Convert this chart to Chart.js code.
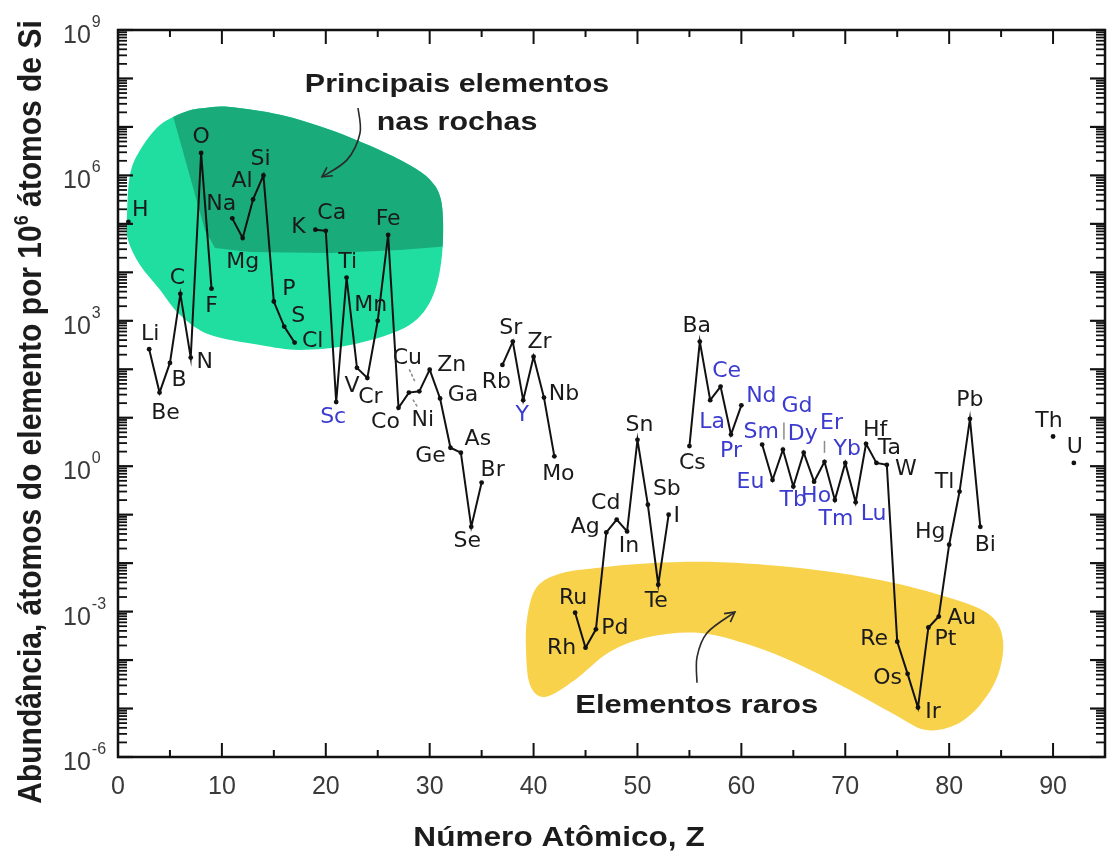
<!DOCTYPE html>
<html>
<head>
<meta charset="utf-8">
<script src="https://cdn.jsdelivr.net/npm/chart.js@4.4.1/dist/chart.umd.min.js"></script>
<style>
  html, body { margin: 0; padding: 0; background: #ffffff; }
  canvas { display: block; }
</style>
</head>
<body>
<canvas id="chart" width="1109" height="857"></canvas>
<script>
// Elemental abundance in the upper continental crust, atoms per 10^6 atoms of Si
const symbols = ['H','Li','Be','B','C','N','O','F','Na','Mg','Al','Si','P','S','Cl','K','Ca','Sc','Ti','V','Cr','Mn','Fe','Co','Ni','Cu','Zn','Ga','Ge','As','Se','Br','Rb','Sr','Y','Zr','Nb','Mo','Ru','Rh','Pd','Ag','Cd','In','Sn','Sb','Te','I','Cs','Ba','La','Ce','Pr','Nd','Sm','Eu','Gd','Tb','Dy','Ho','Er','Tm','Yb','Lu','Hf','Ta','W','Re','Os','Ir','Pt','Au','Hg','Tl','Pb','Bi','Th','U'];
const atomicNumbers = [1,3,4,5,6,7,8,9,11,12,13,14,15,16,17,19,20,21,22,23,24,25,26,27,28,29,30,31,32,33,34,35,37,38,39,40,41,42,44,45,46,47,48,49,50,51,52,53,55,56,57,58,59,60,62,63,64,65,66,67,68,69,70,71,72,73,74,75,76,77,78,79,80,81,82,83,90,92];
const abundances = [1.1e5,260,33,135,3.6e3,174,2.9e6,4.6e3,1.3e5,5.1e4,3.2e5,1.0e6,2.5e3,760,355,7.6e4,7.2e4,21,7.8e3,107,66,1.0e3,5.9e4,16,33,35,98,25,2.4,1.9,0.056,0.46,123,372,23,182,26,1.6,9.5e-4,1.8e-4,4.3e-4,0.043,0.079,0.045,3.5,0.16,0.0036,0.10,2.6,372,23,44,4.5,18,2.8,0.52,2.2,0.38,1.9,0.48,1.23,0.20,1.17,0.18,2.9,1.17,1.07,2.4e-4,5.2e-5,1.05e-5,4.7e-4,7.9e-4,0.024,0.30,9.5,0.056,4.1,1.17];
const rareEarths = ['Sc','Y','La','Ce','Pr','Nd','Sm','Eu','Gd','Tb','Dy','Ho','Er','Tm','Yb','Lu'];
const xTickValues = [0,10,20,30,40,50,60,70,80,90];
const yTickExponents = [-6,-3,0,3,6,9];

// Where each element symbol sits relative to its point (pixels)
const labelOffsets = {
  H:[12,-12], Li:[1,-15], Be:[6,21], B:[9,17], C:[-3,-16], N:[14,5], O:[0,-16], F:[0,18],
  Na:[-11,-14], Mg:[0,24], Al:[-11,-18], Si:[-3,-16], P:[15,-12], S:[14,-10], Cl:[18,-1],
  K:[-17,-2], Ca:[6,-18], Sc:[-3,15], Ti:[1,-15], V:[-5,18], Cr:[3,19], Mn:[-7,-16], Fe:[0,-16],
  Co:[-13,14], Ni:[14,28], Cu:[-12,-33], Zn:[22,-4], Ga:[23,-3], Ge:[-20,9], As:[17,-13],
  Se:[-4,14], Br:[11,-12], Rb:[-6,17], Sr:[-2,-13], Y:[-1,15], Zr:[6,-14], Nb:[20,-3], Mo:[4,18],
  Ru:[-2,-14], Rh:[-24,1], Pd:[19,-1], Ag:[-21,-5], Cd:[-11,-16], In:[2,15], Sn:[2,-15],
  Sb:[19,-15], Te:[-2,17], I:[8,2], Cs:[3,17], Ba:[-3,-15], La:[2,22], Ce:[6,-15], Pr:[0,17],
  Nd:[20,-9], Sm:[-1,-12], Eu:[-22,2], Gd:[14,-43], Tb:[0,14], Dy:[-1,-18], Ho:[2,15],
  Er:[7,-39], Tm:[1,19], Yb:[2,-14], Lu:[18,12], Hf:[9,-14], Ta:[13,-15], W:[19,5],
  Re:[-23,-2], Os:[-20,4], Ir:[15,5], Pt:[17,12], Au:[23,2], Hg:[-19,-12], Tl:[-15,-9],
  Pb:[0,-19], Bi:[5,18], Th:[-4,-15], U:[1,-16]
};
// Short pointer strokes from a symbol to its point: [symbol, dx1, dy1, dx2, dy2, dashed]
const leaders = [
  ['Cu', -10, -22, -4, -9, true],
  ['Ni', 4, 7, 9, 15, true],
  ['Gd', 1, -27, 1, -10, false],
  ['Er', 0, -21, 0, -9, false]
];

// Shaded zones, outlined in (Z, log10 abundance)
const rockZone = [[0.87,5.18],[1.15,6.01],[2.12,6.52],[4.04,7.04],[6.45,7.31],[8.37,7.39],[10.78,7.41],[15.59,7.25],[20.4,6.94],[25.22,6.52],[28.1,6.21],[30.03,5.91],[31.09,5.49],[31.28,4.67],[30.8,3.84],[29.55,3.22],[27.14,2.81],[22.33,2.5],[17.52,2.4],[13.67,2.5],[8.85,2.71],[5.97,3.12],[4.04,3.64],[2.12,4.15],[0.96,4.67]];
const rockCore = [[5.0,7.7],[33.0,7.7],[33.0,4.56],[27.14,4.46],[20.4,4.4],[12.7,4.42],[9.34,4.5],[8.37,4.87],[5.2,7.3]];
const rareZone = [[39.4,-3.1],[40.3,-2.5],[42.5,-2.22],[46.0,-2.1],[51.2,-2.0],[57.94,-1.98],[65.64,-2.1],[73.34,-2.35],[80.08,-2.72],[83.93,-3.07],[85.18,-3.59],[84.7,-4.31],[82.96,-4.93],[80.56,-5.34],[77.67,-5.44],[74.78,-5.13],[70.45,-4.62],[65.64,-4.1],[60.83,-3.69],[56.02,-3.44],[51.2,-3.52],[47.35,-3.83],[43.98,-4.41],[41.1,-4.76],[39.65,-4.51],[39.27,-3.79]];
const rockArrow = [[23.1,7.39],[23.29,6.87],[22.04,6.32],[19.63,5.97]];
const rareArrow = [[55.73,-4.47],[55.73,-3.94],[56.69,-3.44],[59.38,-3.01]];

// Build the line with breaks wherever an element is missing
const linePoints = [];
atomicNumbers.forEach((z, i) => {
  if (i > 0 && z - atomicNumbers[i - 1] > 1) linePoints.push({ x: z - 0.5, y: null });
  linePoints.push({ x: z, y: abundances[i] });
});

const STRETCH = 1.17;
const INK = '#1a1a1a';
const BLUE = '#3b3bd0';

function toPx(chart, z, lg) {
  return [chart.scales.x.getPixelForValue(z), chart.scales.y.getPixelForValue(Math.pow(10, lg))];
}
function smoothPath(ctx, pts, closed) {
  const n = pts.length;
  ctx.moveTo(pts[0][0], pts[0][1]);
  const last = closed ? n : n - 1;
  for (let i = 0; i < last; i++) {
    const p0 = closed ? pts[(i - 1 + n) % n] : pts[Math.max(i - 1, 0)];
    const p1 = pts[i];
    const p2 = closed ? pts[(i + 1) % n] : pts[i + 1];
    const p3 = closed ? pts[(i + 2) % n] : pts[Math.min(i + 2, n - 1)];
    ctx.bezierCurveTo(p1[0] + (p2[0] - p0[0]) / 6, p1[1] + (p2[1] - p0[1]) / 6,
                      p2[0] - (p3[0] - p1[0]) / 6, p2[1] - (p3[1] - p1[1]) / 6, p2[0], p2[1]);
  }
  if (closed) ctx.closePath();
}
function line(ctx, x1, y1, x2, y2) {
  ctx.beginPath(); ctx.moveTo(x1, y1); ctx.lineTo(x2, y2); ctx.stroke();
}
function drawWide(ctx, text, x, y, font, sx) {
  ctx.save();
  ctx.translate(x, y);
  ctx.scale(sx, 1);
  ctx.font = font;
  ctx.textAlign = 'center';
  ctx.textBaseline = 'alphabetic';
  ctx.fillText(text, 0, 0);
  ctx.restore();
}
function drawArrow(ctx, pts) {
  ctx.beginPath();
  smoothPath(ctx, pts, false);
  ctx.stroke();
  const a = pts[pts.length - 1], b = pts[pts.length - 2];
  const ang = Math.atan2(a[1] - b[1], a[0] - b[0]);
  ctx.beginPath();
  ctx.moveTo(a[0] - 11 * Math.cos(ang - 0.5), a[1] - 11 * Math.sin(ang - 0.5));
  ctx.lineTo(a[0], a[1]);
  ctx.lineTo(a[0] - 11 * Math.cos(ang + 0.5), a[1] - 11 * Math.sin(ang + 0.5));
  ctx.stroke();
}

const decorations = {
  id: 'decorations',
  beforeDraw(chart) {
    const ctx = chart.ctx;
    ctx.save();
    ctx.fillStyle = '#ffffff';
    ctx.fillRect(0, 0, chart.width, chart.height);
    ctx.restore();
  },
  beforeDatasetsDraw(chart) {
    const ctx = chart.ctx;
    const rock = rockZone.map(p => toPx(chart, p[0], p[1]));
    const core = rockCore.map(p => toPx(chart, p[0], p[1]));
    const rare = rareZone.map(p => toPx(chart, p[0], p[1]));
    ctx.save();
    // rare elements zone
    ctx.fillStyle = '#f9d24c';
    ctx.beginPath(); smoothPath(ctx, rare, true); ctx.fill();
    // rock-forming elements zone
    ctx.fillStyle = '#20dea0';
    ctx.beginPath(); smoothPath(ctx, rock, true); ctx.fill();
    ctx.save();
    ctx.beginPath(); smoothPath(ctx, rock, true); ctx.clip();
    ctx.fillStyle = '#1aab7b';
    ctx.beginPath();
    ctx.moveTo(core[0][0], core[0][1]);
    for (let i = 1; i < core.length; i++) ctx.lineTo(core[i][0], core[i][1]);
    ctx.closePath();
    ctx.fill();
    ctx.restore();
    ctx.restore();
  },
  afterDatasetsDraw(chart) {
    const ctx = chart.ctx;
    const xs = chart.scales.x, ys = chart.scales.y;
    const { left, right, top, bottom } = chart.chartArea;
    ctx.save();

    // pointer strokes
    ctx.strokeStyle = '#8a8a8a';
    ctx.lineWidth = 1.5;
    leaders.forEach(([sym, dx1, dy1, dx2, dy2, dashed]) => {
      const i = symbols.indexOf(sym);
      const x = xs.getPixelForValue(atomicNumbers[i]);
      const y = ys.getPixelForValue(abundances[i]);
      ctx.setLineDash(dashed ? [3, 2] : []);
      line(ctx, x + dx1, y + dy1, x + dx2, y + dy2);
    });
    ctx.setLineDash([]);

    // element symbols
    ctx.font = '22px "DejaVu Sans"';
    ctx.textAlign = 'center';
    ctx.textBaseline = 'middle';
    symbols.forEach((sym, i) => {
      const x = xs.getPixelForValue(atomicNumbers[i]);
      const y = ys.getPixelForValue(abundances[i]);
      const off = labelOffsets[sym] || [0, -15];
      ctx.fillStyle = rareEarths.includes(sym) ? BLUE : INK;
      ctx.fillText(sym, x + off[0], y + off[1]);
    });

    // zone captions and arrows
    ctx.fillStyle = '#1c1c1c';
    const bold = 'bold 26px "Liberation Sans"';
    let p = toPx(chart, 32.63, 7.72);
    drawWide(ctx, 'Principais elementos', p[0], p[1], bold, STRETCH);
    p = toPx(chart, 32.63, 6.94);
    drawWide(ctx, 'nas rochas', p[0], p[1], bold, STRETCH);
    p = toPx(chart, 55.7, -5.09);
    drawWide(ctx, 'Elementos raros', p[0], p[1], 'bold 26.5px "Liberation Sans"', STRETCH);
    ctx.strokeStyle = '#2a2a2a';
    ctx.lineWidth = 1.6;
    drawArrow(ctx, rockArrow.map(q => toPx(chart, q[0], q[1])));
    drawArrow(ctx, rareArrow.map(q => toPx(chart, q[0], q[1])));

    // frame and inward ticks
    ctx.strokeStyle = '#111111';
    ctx.lineWidth = 2;
    for (let v = 0; v <= 95; v += 5) {
      const x = xs.getPixelForValue(v);
      const len = v % 10 === 0 ? 14 : 7;
      line(ctx, x, bottom, x, bottom - len);
      line(ctx, x, top, x, top + len);
    }
    for (let e = -6; e <= 9; e++) {
      for (let m = 1; m <= 9; m++) {
        if (e === 9 && m > 1) break;
        const y = ys.getPixelForValue(m * Math.pow(10, e));
        const len = m === 1 ? 15 : 9;
        ctx.lineWidth = m === 1 ? 2.2 : 1.8;
        line(ctx, left, y, left + len, y);
        line(ctx, right, y, right - len, y);
      }
    }
    ctx.lineWidth = 2.5;
    ctx.strokeRect(left, top, right - left, bottom - top);

    // tick labels
    ctx.fillStyle = '#3a3a3a';
    ctx.textBaseline = 'alphabetic';
    yTickExponents.forEach(e => {
      const y = ys.getPixelForValue(Math.pow(10, e));
      ctx.font = '25px "Liberation Sans"';
      ctx.textAlign = 'left';
      ctx.fillText('10', 63, y + 13);
      const w = ctx.measureText('10').width;
      ctx.font = '16px "Liberation Sans"';
      ctx.fillText(String(e), 63 + w + 1, y - 3);
    });
    ctx.font = '25px "Liberation Sans"';
    ctx.textAlign = 'center';
    ctx.textBaseline = 'middle';
    xTickValues.forEach(v => {
      ctx.fillText(String(v), xs.getPixelForValue(v), bottom + 30);
    });

    // axis titles
    ctx.fillStyle = '#1c1c1c';
    drawWide(ctx, 'Número Atômico, Z', 559, 846, 'bold 27px "Liberation Sans"', STRETCH);

    const segs = [['Abundância, átomos do elemento por 10', false], ['6', true], [' átomos de Si', false]];
    const mainFont = 'bold 30px "Liberation Sans"', supFont = 'bold 18px "Liberation Sans"';
    let total = 0;
    segs.forEach(([t, sup]) => { ctx.font = sup ? supFont : mainFont; total += ctx.measureText(t).width; });
    ctx.save();
    ctx.translate(41, 412);
    ctx.scale(STRETCH * 0.95, 1);
    ctx.rotate(-Math.PI / 2);
    ctx.textAlign = 'left';
    ctx.textBaseline = 'alphabetic';
    let cx = -total / 2;
    segs.forEach(([t, sup]) => {
      ctx.font = sup ? supFont : mainFont;
      ctx.fillText(t, cx, sup ? -12 : 0);
      cx += ctx.measureText(t).width;
    });
    ctx.restore();

    ctx.restore();
  }
};

new Chart(document.getElementById('chart'), {
  type: 'line',
  data: {
    datasets: [{
      data: linePoints,
      borderColor: '#111111',
      borderWidth: 2,
      pointRadius: 2.4,
      pointBackgroundColor: '#111111',
      pointBorderWidth: 0,
      tension: 0,
      spanGaps: false
    }]
  },
  options: {
    responsive: false,
    animation: false,
    events: [],
    layout: { padding: { top: 30, right: 4, left: 0, bottom: 0 } },
    plugins: { legend: { display: false }, tooltip: { enabled: false } },
    scales: {
      x: {
        type: 'linear', min: 0, max: 95,
        grid: { display: false }, border: { display: false },
        ticks: { display: false },
        afterFit(scale) { scale.height = 100; }
      },
      y: {
        type: 'logarithmic', min: 1e-6, max: 1e9,
        grid: { display: false }, border: { display: false },
        ticks: { display: false },
        afterFit(scale) { scale.width = 118; }
      }
    }
  },
  plugins: [decorations]
});
</script>
</body>
</html>
